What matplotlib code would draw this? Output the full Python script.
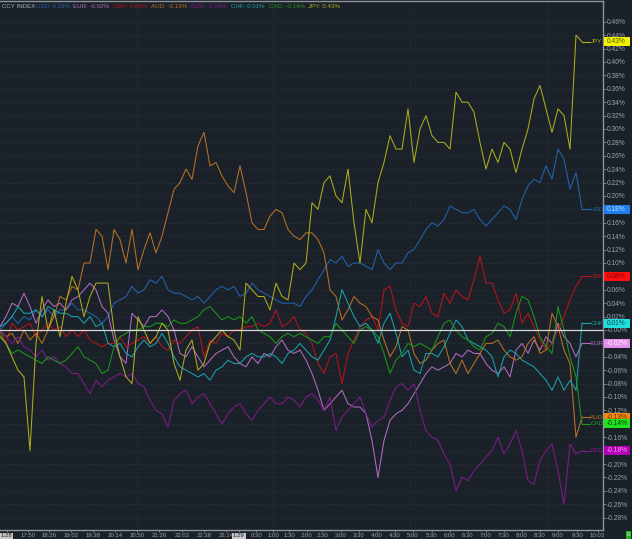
import numpy as np
import matplotlib.pyplot as plt
import matplotlib.transforms as mtransforms
from matplotlib.patches import Rectangle

plt.rcParams['font.family'] = ['Liberation Sans', 'DejaVu Sans']

# currency index moves in percent, one sample every few minutes
names = ['USD', 'EUR', 'GBP', 'AUD', 'NZD', 'CHF', 'CAD', 'JPY']
last = [0.18, -0.02, 0.08, -0.13, -0.18, 0.01, -0.14, 0.43]

usd = [0.00, 0.01, 0.02, 0.01, 0.02, 0.015, 0.03, 0.02, 0.03, 0.02,
       0.03, 0.03, 0.04, 0.03, 0.03, 0.025, 0.02, 0.01, 0.02, 0.04,
       0.045, 0.05, 0.065, 0.055, 0.06, 0.075, 0.07, 0.08, 0.06, 0.055,
       0.055, 0.05, 0.045, 0.05, 0.04, 0.05, 0.06, 0.065, 0.06, 0.065,
       0.05, 0.055, 0.07, 0.06, 0.055, 0.05, 0.045, 0.04, 0.04, 0.04,
       0.035, 0.05, 0.06, 0.075, 0.09, 0.105, 0.10, 0.11, 0.095, 0.10,
       0.10, 0.095, 0.09, 0.12, 0.10, 0.09, 0.10, 0.10, 0.115, 0.12,
       0.135, 0.15, 0.16, 0.155, 0.165, 0.185, 0.18, 0.175, 0.175, 0.18,
       0.165, 0.155, 0.165, 0.175, 0.185, 0.18, 0.165, 0.195, 0.215, 0.225,
       0.22, 0.245, 0.225, 0.27, 0.255, 0.21, 0.235, 0.18]
eur = [0.005, 0.02, 0.04, 0.035, 0.055, 0.035, 0.01, 0.03, 0.045, 0.035,
       0.04, 0.03, 0.045, 0.05, 0.06, 0.07, 0.06, 0.035, 0.025, -0.015,
       -0.04, -0.05, 0.025, 0.015, 0.005, 0.02, 0.02, 0.03, 0.02, 0.00,
       -0.035, -0.04, -0.025, -0.04, -0.055, -0.045, -0.035, -0.03, -0.025, -0.04,
       -0.05, -0.055, -0.04, -0.05, -0.035, -0.04, -0.025, -0.015, -0.03, -0.035,
       -0.03, -0.045, -0.065, -0.09, -0.12, -0.11, -0.10, -0.09, -0.11, -0.115,
       -0.115, -0.125, -0.165, -0.22, -0.165, -0.135, -0.125, -0.12, -0.11, -0.095,
       -0.08, -0.065, -0.055, -0.06, -0.055, -0.05, -0.035, -0.04, -0.03, -0.035,
       -0.035, -0.05, -0.06, -0.065, -0.055, -0.07, -0.03, -0.02, -0.035, -0.015,
       -0.03, -0.01, -0.02, 0.01, -0.01, -0.02, -0.04, -0.02]
gbp = [0.00, -0.02, 0.01, 0.00, 0.005, 0.01, -0.01, 0.00, 0.01, 0.00,
       0.005, -0.01, 0.00, -0.01, 0.00, -0.015, -0.02, -0.025, -0.02, -0.02,
       -0.01, -0.025, -0.02, -0.015, -0.01, -0.02, -0.01, -0.025, -0.03, -0.015,
       -0.02, -0.01, 0.00, 0.005, -0.04, -0.015, -0.02, -0.005, -0.01, 0.00,
       0.00, 0.005, 0.005, 0.01, 0.005, 0.01, 0.03, 0.005, 0.01, 0.02,
       0.00, -0.005, -0.02, -0.05, -0.065, -0.04, -0.035, -0.08, -0.035, -0.015,
       0.005, 0.015, 0.02, 0.00, 0.06, 0.065, 0.03, 0.01, 0.005, 0.04,
       0.035, 0.05, 0.025, 0.02, 0.055, 0.04, 0.06, 0.05, 0.045, 0.075,
       0.11, 0.07, 0.07, 0.045, 0.025, 0.03, 0.055, 0.01, 0.025, 0.005,
       -0.015, -0.03, -0.02, 0.00, 0.02, 0.045, 0.065, 0.08]
aud = [0.00, -0.01, -0.005, -0.02, 0.00, -0.015, -0.005, -0.02, 0.00, 0.02,
       0.05, 0.045, 0.065, 0.06, 0.10, 0.10, 0.15, 0.14, 0.09, 0.15,
       0.135, 0.10, 0.15, 0.09, 0.12, 0.145, 0.115, 0.14, 0.175, 0.21,
       0.22, 0.24, 0.225, 0.275, 0.295, 0.245, 0.25, 0.23, 0.215, 0.205,
       0.245, 0.205, 0.16, 0.15, 0.15, 0.17, 0.18, 0.175, 0.15, 0.14,
       0.135, 0.145, 0.145, 0.135, 0.115, 0.06, 0.05, 0.015, 0.03, 0.05,
       0.04, 0.035, 0.02, 0.015, -0.015, -0.04, -0.025, 0.005, 0.00, -0.035,
       -0.05, -0.045, -0.03, -0.02, -0.015, -0.05, -0.065, -0.045, -0.065, -0.05,
       -0.035, -0.02, -0.02, -0.015, -0.03, -0.04, -0.045, -0.04, -0.02, -0.01,
       -0.035, -0.03, 0.025, 0.005, -0.03, -0.05, -0.16, -0.13]
nzd = [0.00, -0.01, -0.02, -0.01, -0.025, -0.03, -0.04, -0.03, -0.045, -0.04,
       -0.05, -0.055, -0.065, -0.065, -0.08, -0.095, -0.075, -0.085, -0.075, -0.07,
       -0.065, -0.07, -0.065, -0.08, -0.085, -0.105, -0.12, -0.125, -0.145, -0.105,
       -0.095, -0.09, -0.11, -0.10, -0.095, -0.11, -0.125, -0.14, -0.125, -0.115,
       -0.11, -0.125, -0.135, -0.12, -0.11, -0.10, -0.11, -0.11, -0.10, -0.105,
       -0.115, -0.10, -0.095, -0.105, -0.12, -0.10, -0.15, -0.13, -0.12, -0.11,
       -0.10, -0.125, -0.145, -0.135, -0.13, -0.105, -0.085, -0.08, -0.09, -0.08,
       -0.12, -0.15, -0.16, -0.165, -0.185, -0.20, -0.24, -0.22, -0.225, -0.21,
       -0.20, -0.19, -0.18, -0.16, -0.185, -0.17, -0.15, -0.18, -0.225, -0.23,
       -0.195, -0.18, -0.17, -0.21, -0.26, -0.17, -0.185, -0.18]
chf = [0.005, 0.01, 0.02, 0.035, 0.025, 0.025, 0.03, 0.02, 0.035, 0.03,
       0.025, 0.025, 0.02, 0.02, 0.01, 0.02, 0.005, 0.01, -0.02, -0.025,
       -0.02, -0.035, -0.04, -0.025, -0.015, -0.025, -0.02, -0.005, -0.02, -0.04,
       -0.055, -0.06, -0.065, -0.07, -0.065, -0.075, -0.06, -0.055, -0.045, -0.05,
       -0.05, -0.04, -0.035, -0.04, -0.04, -0.035, -0.04, -0.05, -0.035, -0.03,
       -0.02, -0.03, -0.04, -0.045, -0.03, -0.015, 0.02, 0.06, 0.04, 0.02,
       0.005, 0.01, 0.00, -0.02, 0.01, 0.025, -0.005, -0.04, -0.03, -0.06,
       -0.065, -0.035, -0.035, -0.04, -0.025, -0.005, 0.015, 0.005, -0.015, -0.02,
       -0.025, -0.03, -0.04, -0.07, -0.04, -0.03, -0.035, -0.045, -0.05, -0.055,
       -0.065, -0.075, -0.09, -0.07, -0.09, -0.075, -0.09, 0.01]
cad = [-0.005, -0.02, -0.035, -0.03, -0.035, -0.04, -0.045, -0.05, -0.04, -0.045,
       -0.05, -0.045, -0.035, -0.025, -0.04, -0.045, -0.05, -0.065, -0.06, -0.025,
       -0.01, -0.005, 0.00, 0.00, 0.005, 0.005, 0.01, 0.01, 0.005, 0.015,
       0.01, 0.01, 0.015, 0.02, 0.03, 0.035, 0.025, 0.015, 0.02, 0.015,
       0.02, 0.01, 0.02, 0.00, -0.005, -0.01, -0.02, -0.01, -0.005, -0.01,
       -0.005, -0.01, -0.015, -0.02, -0.01, -0.01, 0.01, 0.00, -0.01, -0.02,
       0.00, 0.005, 0.00, -0.01, -0.035, -0.065, -0.045, -0.035, -0.02, -0.025,
       -0.02, -0.025, -0.03, -0.01, 0.01, 0.015, 0.00, -0.01, -0.015, -0.025,
       -0.03, -0.01, -0.005, 0.01, 0.005, -0.01, 0.025, 0.05, 0.045, 0.02,
       -0.01, -0.025, -0.035, 0.035, 0.00, -0.04, -0.07, -0.14]
jpy = [-0.01, -0.02, -0.04, -0.06, -0.07, -0.18, -0.02, 0.05, 0.00, 0.03,
       -0.01, 0.04, 0.08, 0.06, 0.02, 0.05, 0.07, 0.07, 0.07, 0.00,
       -0.04, -0.07, -0.08, 0.02, 0.00, -0.02, -0.01, 0.01, 0.00, -0.05,
       -0.075, -0.03, -0.015, -0.06, -0.05, -0.02, -0.01, 0.00, -0.01, -0.015,
       -0.03, 0.07, 0.06, 0.05, 0.05, 0.03, 0.07, 0.05, 0.045, 0.10,
       0.09, 0.10, 0.19, 0.18, 0.22, 0.23, 0.20, 0.19, 0.24, 0.16,
       0.10, 0.18, 0.16, 0.22, 0.25, 0.29, 0.27, 0.27, 0.33, 0.25,
       0.30, 0.32, 0.29, 0.28, 0.28, 0.27, 0.355, 0.34, 0.34, 0.325,
       0.28, 0.24, 0.27, 0.25, 0.28, 0.27, 0.235, 0.27, 0.30, 0.345,
       0.365, 0.33, 0.295, 0.33, 0.32, 0.27, 0.44, 0.43]

series = [usd, eur, gbp, aud, nzd, chf, cad, jpy]

# time labels along the bottom and where they sit (sample index)
time_labels = ['1:28', '17:50', '18:26', '19:02', '19:38', '20:14', '20:50', '21:26',
               '22:02', '22:38', '23:14', '1:29', '0:30', '1:00', '1:30', '2:00',
               '2:30', '3:00', '3:30', '4:00', '4:30', '5:00', '5:30', '6:00',
               '6:30', '7:00', '7:30', '8:00', '8:30', '9:00', '9:30', '10:03']
time_pos = [1.1, 4.7, 8.2, 11.9, 15.5, 19.2, 22.9, 26.5, 30.3, 34.0, 37.7, 39.8,
            42.7, 45.5, 48.2, 51.1, 53.7, 56.8, 59.8, 62.8, 65.8, 68.8, 72.0, 75.0,
            78.0, 81.0, 84.0, 87.0, 90.0, 93.0, 96.2, 99.6]

line_colors = ['#2363ac', '#b36cc0', '#b8141c', '#b87224', '#7e1c88',
               '#1aa2ad', '#1c961c', '#adad1c']
box_colors = ['#1f7ef0', '#e58ee8', '#ff1010', '#f08a10', '#b000b4',
              '#22dede', '#22e022', '#f2f200']
box_text = ['#b8d8ff', '#ffffff', '#700000', '#603000', '#ff9cff',
            '#004848', '#004000', '#505000']
legend_x = [36, 73, 113, 151, 191, 231, 269, 308]

bg = '#1b2129'
fig = plt.figure(figsize=(6.32, 5.39), dpi=100, facecolor=bg)
ax = fig.add_axes([0, 9 / 539, 603 / 632, 529 / 539], facecolor=bg)

x = np.arange(len(usd))
for vals, c in zip(series, line_colors):
    ax.plot(x, vals, color=c, lw=0.75, zorder=2)

ax.set_xlim(0, 100.5)
ax.set_ylim(-0.2985, 0.491)
ax.axhline(0, color='#d8d8d8', lw=0.9, zorder=3)

# right axis ticks
yt = np.round(np.arange(-0.28, 0.461, 0.02), 2)
ax.yaxis.tick_right()
ax.set_yticks(yt)
ax.set_yticklabels(['-0.00%' if v == 0 else f'{v:.2f}%' for v in yt])
ax.tick_params(axis='y', colors='#9aa3ad', labelsize=4.8, length=2, width=0.5, pad=1)
for v in yt:
    ax.axhline(v, color='#2f3843', lw=0.6, ls=(0, (1, 2)), zorder=1)
for xv in [22.8, 45.5, 68.3, 91.2]:
    ax.axvline(xv, color='#2f3843', lw=0.6, ls=(0, (1, 2)), zorder=1)

ax.set_xticks(time_pos)
ax.set_xticklabels(time_labels)
ax.tick_params(axis='x', colors='#9aa3ad', labelsize=4.3, length=1.5, width=0.5, pad=1)
for lab in ax.get_xticklabels():
    if lab.get_text() in ('1:28', '1:29'):
        lab.set_color('#202020')
        lab.set_bbox(dict(facecolor='#c8c8c8', edgecolor='none', pad=0.6))

ax.spines['left'].set_visible(False)
for side in ['right', 'bottom', 'top']:
    ax.spines[side].set_color('#8c949c')
    ax.spines[side].set_linewidth(1.0)

# end labels: connector + name, then value box on the axis
blend = mtransforms.blended_transform_factory(ax.transAxes, ax.transData)
xe = x[-1]
for name, vals, c, bc, tc, lv in zip(names, series, line_colors, box_colors, box_text, last):
    ax.plot([xe, xe + 1.3], [vals[-1], vals[-1]], color=c, lw=0.8, zorder=2)
    ax.text(xe + 1.4, vals[-1], name, color=c, fontsize=4.5, va='center', ha='left')
    ax.add_patch(Rectangle((1.002, lv - 0.0068), 0.043, 0.0136, transform=blend,
                           facecolor=bc, edgecolor='none', clip_on=False, zorder=5))
    ax.text(1.006, lv, f'{lv:.2f}%', transform=blend, color=tc, fontsize=4.8,
            va='center', ha='left', zorder=6, clip_on=False)

# top legend
ax.text(2 / 603, 1 - 6 / 529, 'CCY INDEX', transform=ax.transAxes, color='#a8b0b8',
        fontsize=4.4, va='center', ha='left')
for name, c, lv, lx in zip(names, line_colors, last, legend_x):
    ax.text(lx / 603, 1 - 6 / 529, f'{name}: {lv:.2f}%', transform=ax.transAxes,
            color=c, fontsize=4.4, va='center', ha='left')

fig.text(628.5 / 632, 4 / 539, '0', color='#e0ffe0', fontsize=4.5, ha='center', va='center',
         bbox=dict(facecolor='#20b020', edgecolor='none', pad=0.8))

fig.savefig('out.png', dpi=100, facecolor=bg)
